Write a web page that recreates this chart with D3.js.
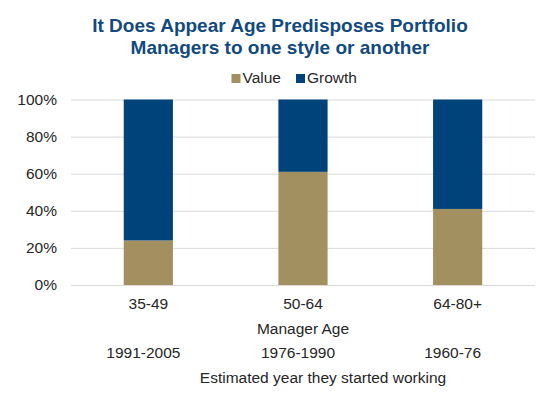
<!DOCTYPE html>
<html>
<head>
<meta charset="utf-8">
<script src="https://cdn.jsdelivr.net/npm/d3@7"></script>
<style>
  body { margin: 0; background: #fff; }
  svg text { font-family: "Liberation Sans", Arial, sans-serif; }
</style>
</head>
<body>
<div id="chart"></div>
<script>
// data
const ageGroups = ['35-49', '50-64', '64-80+'];
const startYears = ['1991-2005', '1976-1990', '1960-76'];
const valueShare = [0.24, 0.61, 0.41];
const growthShare = [0.76, 0.39, 0.59];
const seriesNames = ['Value', 'Growth'];
const yTicks = [0, 0.2, 0.4, 0.6, 0.8, 1];

const W = 552, H = 393;
const colors = { Value: '#A39060', Growth: '#00437A' };
const margin = { top: 99.5, right: 17, bottom: 108, left: 71 };
const width = W - margin.left - margin.right;
const height = H - margin.top - margin.bottom;
const labelSize = '15.5px';

const svg = d3.select('#chart').append('svg')
  .attr('width', W).attr('height', H);

// title
const title = svg.append('text')
  .attr('text-anchor', 'middle')
  .attr('fill', '#124A7E')
  .attr('font-weight', 'bold')
  .attr('font-size', '19px');
title.append('tspan').attr('x', 280).attr('y', 32).text('It Does Appear Age Predisposes Portfolio');
title.append('tspan').attr('x', 280).attr('y', 54).text('Managers to one style or another');

// legend
const legend = svg.append('g').attr('transform', 'translate(231.5,74)');
const legendX = [0, 64.5];
seriesNames.forEach((name, i) => {
  const item = legend.append('g').attr('transform', 'translate(' + legendX[i] + ',0)');
  item.append('rect').attr('width', 9).attr('height', 9).attr('fill', colors[name]);
  item.append('text')
    .attr('x', 11).attr('y', 8.9)
    .attr('font-size', labelSize)
    .attr('fill', '#262626')
    .text(name);
});

const g = svg.append('g')
  .attr('transform', 'translate(' + margin.left + ',' + margin.top + ')');

const x = d3.scaleBand()
  .domain(ageGroups)
  .range([0, width])
  .paddingInner(0.682)
  .paddingOuter(0.341);

const y = d3.scaleLinear()
  .domain([0, 1])
  .range([height, 0]);

// gridlines
g.append('g')
  .attr('class', 'grid')
  .call(d3.axisLeft(y).tickValues(yTicks).tickSize(-width).tickFormat(''))
  .call(sel => sel.select('.domain').remove())
  .call(sel => sel.selectAll('line').attr('stroke', '#D9D9D9').attr('stroke-width', 1));

// y axis labels
g.append('g')
  .call(d3.axisLeft(y).tickValues(yTicks).tickSize(0).tickPadding(14).tickFormat(d3.format('.0%')))
  .call(sel => sel.select('.domain').remove())
  .call(sel => sel.selectAll('text')
    .attr('font-size', labelSize)
    .attr('fill', '#262626'));

// stacked bars
const rows = ageGroups.map((a, i) => ({ age: a, Value: valueShare[i], Growth: growthShare[i] }));
const stacked = d3.stack().keys(seriesNames)(rows);

g.selectAll('.series')
  .data(stacked)
  .join('g')
  .attr('class', 'series')
  .attr('fill', d => colors[d.key])
  .selectAll('rect')
  .data(d => d)
  .join('rect')
  .attr('x', d => x(d.data.age))
  .attr('y', d => y(d[1]))
  .attr('width', x.bandwidth())
  .attr('height', d => y(d[0]) - y(d[1]));

// x axis labels
g.append('g')
  .attr('transform', 'translate(0,' + height + ')')
  .call(d3.axisBottom(x).tickSize(0).tickPadding(13))
  .call(sel => sel.select('.domain').remove())
  .call(sel => sel.selectAll('text')
    .attr('font-size', labelSize)
    .attr('fill', '#262626')
    .attr('dy', '0.71em'));

g.append('text')
  .attr('x', width / 2)
  .attr('y', height + 48.5)
  .attr('text-anchor', 'middle')
  .attr('font-size', labelSize)
  .attr('fill', '#262626')
  .text('Manager Age');

// start-year labels
g.selectAll('.year')
  .data(startYears)
  .join('text')
  .attr('class', 'year')
  .attr('x', (d, i) => x(ageGroups[i]) + x.bandwidth() / 2 - 5)
  .attr('y', height + 73)
  .attr('text-anchor', 'middle')
  .attr('font-size', labelSize)
  .attr('fill', '#262626')
  .text(d => d);

g.append('text')
  .attr('x', width / 2 + 20)
  .attr('y', height + 97.5)
  .attr('text-anchor', 'middle')
  .attr('font-size', labelSize)
  .attr('fill', '#262626')
  .text('Estimated year they started working');
</script>
</body>
</html>
